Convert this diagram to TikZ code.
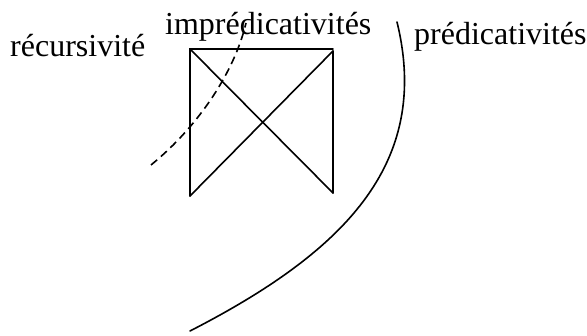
\documentclass[tikz,border=0pt]{standalone}
\usepackage{fontspec}
\setmainfont{Liberation Serif}
\begin{document}
\begin{tikzpicture}[x=1pt,y=-1pt,
  lbl/.style={anchor=base west,inner sep=0pt,font=\fontsize{32}{37}\selectfont},
  solidline/.style={line width=1.6pt,line cap=round,line join=miter},
  dashline/.style={line width=1.6pt,dash pattern=on 8pt off 5pt}]
\useasboundingbox (0,0) rectangle (587,336);
% labels
\node[lbl] (rec) at (10,57) {récursivité};
\node[lbl] (imp) at (165,35) {imprédicativités};
\node[lbl] (pred) at (414,45) {prédicativités};
% square with crossed diagonals
\coordinate (tl) at (190,49);
\coordinate (tr) at (333,49);
\coordinate (tr2) at (333,51);
\coordinate (br) at (333,193);
\coordinate (bl) at (190,196);
\draw[solidline] (bl) -- (tl) -- (tr);
\draw[solidline] (tr2) -- (br);
\draw[solidline] (tl) -- (br);
\draw[solidline] (bl) -- (tr2);
% dashed curve
\coordinate (d0) at (151,165);
\coordinate (d1) at (246,23);
\draw[dashline] (d0) .. controls (200,125) and (235,70) .. (d1);
% big arc
\coordinate (a0) at (397,22);
\coordinate (a1) at (190,331);
\draw[solidline] (a0) .. controls (432,165) and (342,253) .. (a1);
\end{tikzpicture}
\end{document}
